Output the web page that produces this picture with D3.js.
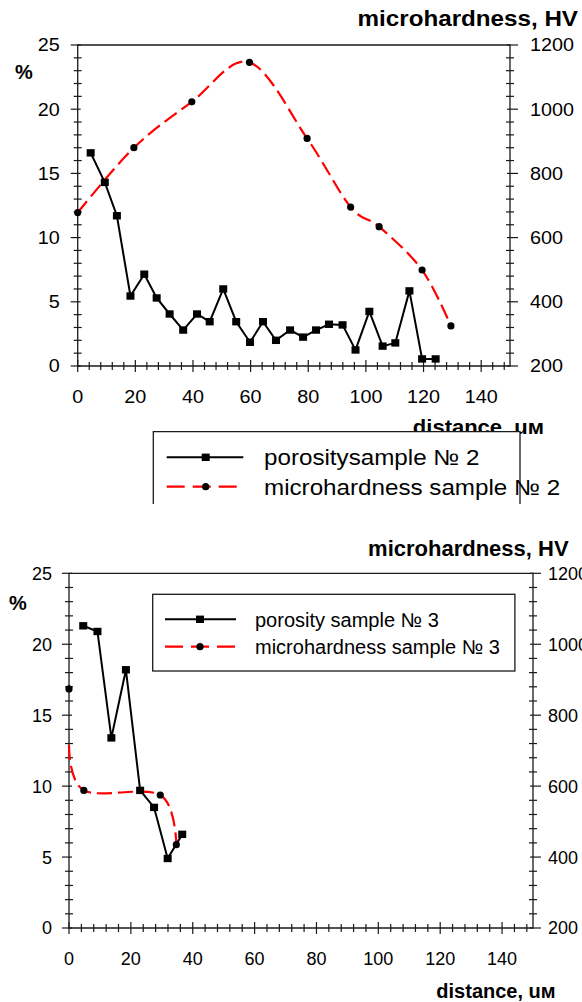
<!DOCTYPE html>
<html>
<head>
<meta charset="utf-8">
<script src="https://cdn.jsdelivr.net/npm/d3@7"></script>
<style>
  body { margin: 0; background: #fff; }
  text { font-family: "Liberation Sans", Arial, sans-serif; fill: #000; }
</style>
</head>
<body>
<svg id="chart" width="582" height="1002"></svg>
<script>
// axis tick values
const distTicks = [0, 20, 40, 60, 80, 100, 120, 140];
const pctTicks = [0, 5, 10, 15, 20, 25];
const hvTicks = [200, 400, 600, 800, 1000, 1200];

// sample 2
const por2Dist = [4.5, 9.4, 13.6, 18.3, 23.1, 27.4, 31.9, 36.6, 41.4, 45.8, 50.5, 55.0, 59.8, 64.3,
  68.8, 73.7, 78.2, 82.7, 87.2, 91.9, 96.4, 101.2, 105.8, 110.2, 115.1, 119.5, 124.2];
const por2Val = [16.6, 14.3, 11.7, 5.45, 7.15, 5.3, 4.05, 2.8, 4.05, 3.45, 6.0, 3.45, 1.85, 3.45,
  2.0, 2.8, 2.25, 2.8, 3.25, 3.2, 1.25, 4.25, 1.55, 1.8, 5.85, 0.55, 0.55];
const hv2Dist = [0, 19.5, 39.6, 59.6, 79.6, 94.7, 104.6, 119.5, 129.5];
const hv2Val = [678, 880, 1023, 1146, 909, 695, 634, 499, 325];

// sample 3
const por3Dist = [4.6, 9.2, 13.7, 18.4, 23.0, 27.5, 31.9, 36.6];
const por3Val = [21.3, 20.9, 13.4, 18.2, 9.7, 8.5, 4.9, 6.6];
const hv3Dist = [0, 4.8, 29.5, 34.7];
const hv3Curve = [716, 588, 575, 435];   // smoothed line
const hv3Marker = [874, 588, 575, 435];  // plotted markers

const names2 = ['porositysample № 2', 'microhardness sample № 2'];
const names3 = ['porosity sample № 3', 'microhardness sample № 3'];

const svg = d3.select('#chart');
svg.append('rect').attr('width', 582).attr('height', 1002).attr('fill', '#fff');

const AX = '#1a1a1a';

function txt(g, x, y, s, o) {
  return g.append('text')
    .attr('transform', `translate(${x},${y}) scale(${o.sx || 1},1)`)
    .attr('text-anchor', o.anchor || 'start')
    .attr('font-size', o.size)
    .attr('font-weight', o.bold ? 'bold' : 'normal')
    .text(s);
}

function square(g, x, y) {
  g.append('rect').attr('x', x - 4).attr('y', y - 3.7).attr('width', 8).attr('height', 7.4).attr('fill', '#000');
}
function dot(g, x, y) {
  g.append('circle').attr('cx', x).attr('cy', y).attr('r', 3.6).attr('fill', '#000');
}

function drawChart(o) {
  const g = svg.append('g');
  const x = d3.scaleLinear().domain([0, 150]).range([o.left, o.right]);
  const yL = d3.scaleLinear().domain([0, 25]).range([o.bottom, o.top]);
  const yR = d3.scaleLinear().domain([200, 1200]).range([o.bottom, o.top]);

  // frame
  g.append('path')
    .attr('d', `M${o.left},${o.bottom}V${o.top}H${o.right}V${o.bottom}Z`)
    .attr('fill', 'none').attr('stroke', AX).attr('stroke-width', 1.3);

  // minor ticks
  d3.range(0, 150, 4).filter(v => v % 20 !== 0).forEach(v => {
    g.append('line').attr('x1', x(v)).attr('x2', x(v)).attr('y1', o.bottom - 4).attr('y2', o.bottom + 4)
      .attr('stroke', AX).attr('stroke-width', 1.2);
  });
  d3.range(0, 25, 1).filter(v => v % 5 !== 0).forEach(v => {
    g.append('line').attr('x1', o.left - 4).attr('x2', o.left + 4).attr('y1', yL(v)).attr('y2', yL(v))
      .attr('stroke', AX).attr('stroke-width', 1.2);
  });
  d3.range(200, 1200, 40).filter(v => v % 200 !== 0).forEach(v => {
    g.append('line').attr('x1', o.right - 4).attr('x2', o.right + 4).attr('y1', yR(v)).attr('y2', yR(v))
      .attr('stroke', AX).attr('stroke-width', 1.2);
  });

  // major ticks + labels
  distTicks.forEach(v => {
    g.append('line').attr('x1', x(v)).attr('x2', x(v)).attr('y1', o.bottom - 6).attr('y2', o.bottom + 6)
      .attr('stroke', AX).attr('stroke-width', 1.2);
    txt(g, x(v), o.xLabelY, v, {size: o.tickSize, sx: o.sx, anchor: 'middle'});
  });
  pctTicks.forEach(v => {
    g.append('line').attr('x1', o.left - 7).attr('x2', o.left + 3).attr('y1', yL(v)).attr('y2', yL(v))
      .attr('stroke', AX).attr('stroke-width', 1.2);
    txt(g, o.left - o.lGap, yL(v) + o.tickSize * 0.36, v, {size: o.tickSize, sx: o.sx, anchor: 'end'});
  });
  hvTicks.forEach(v => {
    g.append('line').attr('x1', o.right - 3).attr('x2', o.right + 8).attr('y1', yR(v)).attr('y2', yR(v))
      .attr('stroke', AX).attr('stroke-width', 1.2);
    txt(g, o.right + o.rGap, yR(v) + o.tickSize * 0.36, v, {size: o.tickSize, sx: o.sx, anchor: 'start'});
  });

  // axis titles
  txt(g, o.hvTitle[0], o.hvTitle[1], 'microhardness, HV', {size: 22, bold: true, sx: o.sx, anchor: 'end'});
  txt(g, o.pct[0], o.pct[1], '%', {size: 20, bold: true, sx: 1});
  txt(g, o.distTitle[0], o.distTitle[1], 'distance, uм', {size: 20, bold: true, sx: o.sx, anchor: 'end'});

  // microhardness smoothed dashed curve
  const hvPts = o.hvDist.map((d, i) => [x(d), yR(o.hvCurve[i])]);
  g.append('path')
    .attr('d', d3.line().curve(d3.curveCatmullRom.alpha(0))(hvPts))
    .attr('fill', 'none').attr('stroke', '#ff0000').attr('stroke-width', 2.2)
    .attr('stroke-dasharray', '15,6');

  // porosity line
  const pPts = o.porDist.map((d, i) => [x(d), yL(o.porVal[i])]);
  g.append('path')
    .attr('d', d3.line()(pPts))
    .attr('fill', 'none').attr('stroke', '#000').attr('stroke-width', 2);

  o.hvDist.forEach((d, i) => dot(g, x(d), yR(o.hvMarker[i])));
  pPts.forEach(p => square(g, p[0], p[1]));

  // legend
  const L = o.legend;
  if (L.open) {
    g.append('path').attr('d', `M${L.x0},${L.y1}V${L.y0}H${L.x1}V${L.y1}`)
      .attr('fill', '#fff').attr('stroke', AX).attr('stroke-width', 1.3);
  } else {
    g.append('rect').attr('x', L.x0).attr('y', L.y0).attr('width', L.x1 - L.x0).attr('height', L.y1 - L.y0)
      .attr('fill', '#fff').attr('stroke', AX).attr('stroke-width', 1.3);
  }
  g.append('line').attr('x1', L.lx0).attr('x2', L.lx1).attr('y1', L.rows[0]).attr('y2', L.rows[0])
    .attr('stroke', '#000').attr('stroke-width', 2);
  square(g, L.mx, L.rows[0]);
  g.append('line').attr('x1', L.lx0).attr('x2', L.lx1).attr('y1', L.rows[1]).attr('y2', L.rows[1])
    .attr('stroke', '#ff0000').attr('stroke-width', 2.2).attr('stroke-dasharray', '18,8');
  dot(g, L.mx, L.rows[1]);
  o.names.forEach((n, i) => txt(g, L.tx, L.rows[i] + L.size * 0.36, n, {size: L.size, sx: o.sx}));
}

drawChart({
  left: 77.7, right: 510, top: 45, bottom: 366, sx: 1.1, tickSize: 18,
  xLabelY: 403, lGap: 18, rGap: 20,
  hvTitle: [578, 26], pct: [15, 79], distTitle: [544, 434],
  porDist: por2Dist, porVal: por2Val,
  hvDist: hv2Dist, hvCurve: hv2Val, hvMarker: hv2Val,
  names: names2,
  legend: {open: true, x0: 153.3, x1: 520, y0: 431.7, y1: 504, lx0: 166.7, lx1: 243.3, mx: 205.7,
    rows: [457.3, 486.7], tx: 264, size: 22}
});

drawChart({
  left: 69, right: 533, top: 573.3, bottom: 928, sx: 1.0, tickSize: 18,
  xLabelY: 965, lGap: 17, rGap: 15,
  hvTitle: [568.6, 556], pct: [9, 610], distTitle: [555.6, 998],
  porDist: por3Dist, porVal: por3Val,
  hvDist: hv3Dist, hvCurve: hv3Curve, hvMarker: hv3Marker,
  names: names3,
  legend: {open: false, x0: 152.7, x1: 514.9, y0: 594.3, y1: 671, lx0: 165, lx1: 236, mx: 200,
    rows: [619.3, 646.7], tx: 255, size: 20}
});
</script>
</body>
</html>
